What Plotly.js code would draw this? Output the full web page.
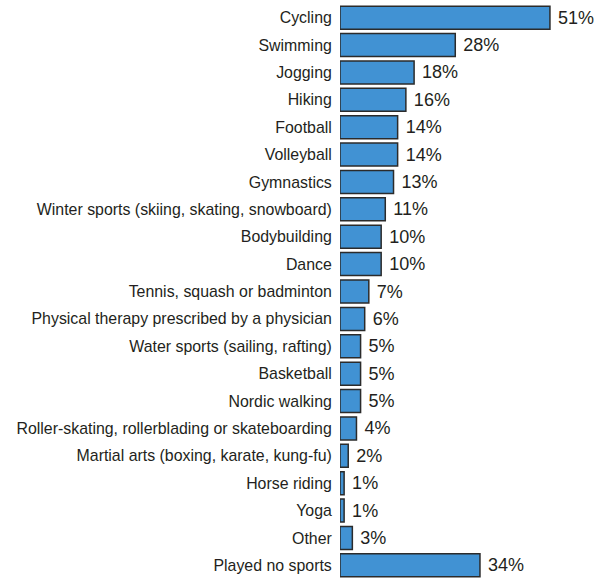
<!DOCTYPE html>
<html><head><meta charset="utf-8">
<script src="https://cdn.plot.ly/plotly-3.0.1.min.js"></script>
<style>html,body{margin:0;padding:0;background:#fff}</style>
</head><body><div id="chart" style="width:607px;height:579px"></div>
<script>
const categories = ["Cycling","Swimming","Jogging","Hiking","Football","Volleyball","Gymnastics",
"Winter sports (skiing, skating, snowboard)","Bodybuilding","Dance","Tennis, squash or badminton",
"Physical therapy prescribed by a physician","Water sports (sailing, rafting)","Basketball","Nordic walking",
"Roller-skating, rollerblading or skateboarding","Martial arts (boxing, karate, kung-fu)","Horse riding","Yoga","Other","Played no sports"];
const values = [51,28,18,16,14,14,13,11,10,10,7,6,5,5,5,4,2,1,1,3,34];
const valueLabels = values.map(v => "\u00a0" + v + "%");

Plotly.newPlot("chart", [{
  type: "bar", orientation: "h",
  x: values, y: categories, text: valueLabels,
  textposition: "outside", cliponaxis: false,
  textfont: {family: "Liberation Sans, Arial, sans-serif", size: 18, color: "#231f20"},
  marker: {color: "#4192d3", line: {color: "#2b2b2b", width: 1.5}},
  hoverinfo: "none"
}], {
  width: 607, height: 579,
  margin: {l: 340, r: 20, t: 4, b: 0},
  bargap: 0.16,
  paper_bgcolor: "#fff", plot_bgcolor: "#fff",
  showlegend: false,
  xaxis: {range: [0, 60], showgrid: false, zeroline: false, showticklabels: false, showline: false, ticks: ""},
  yaxis: {autorange: "reversed", showgrid: false, zeroline: false, showline: false,
          ticks: "outside", ticklen: 4, tickcolor: "rgba(0,0,0,0)",
          tickfont: {family: "Liberation Sans, Arial, sans-serif", size: 15.9, color: "#231f20"}}
}, {staticPlot: true});
</script></body></html>
